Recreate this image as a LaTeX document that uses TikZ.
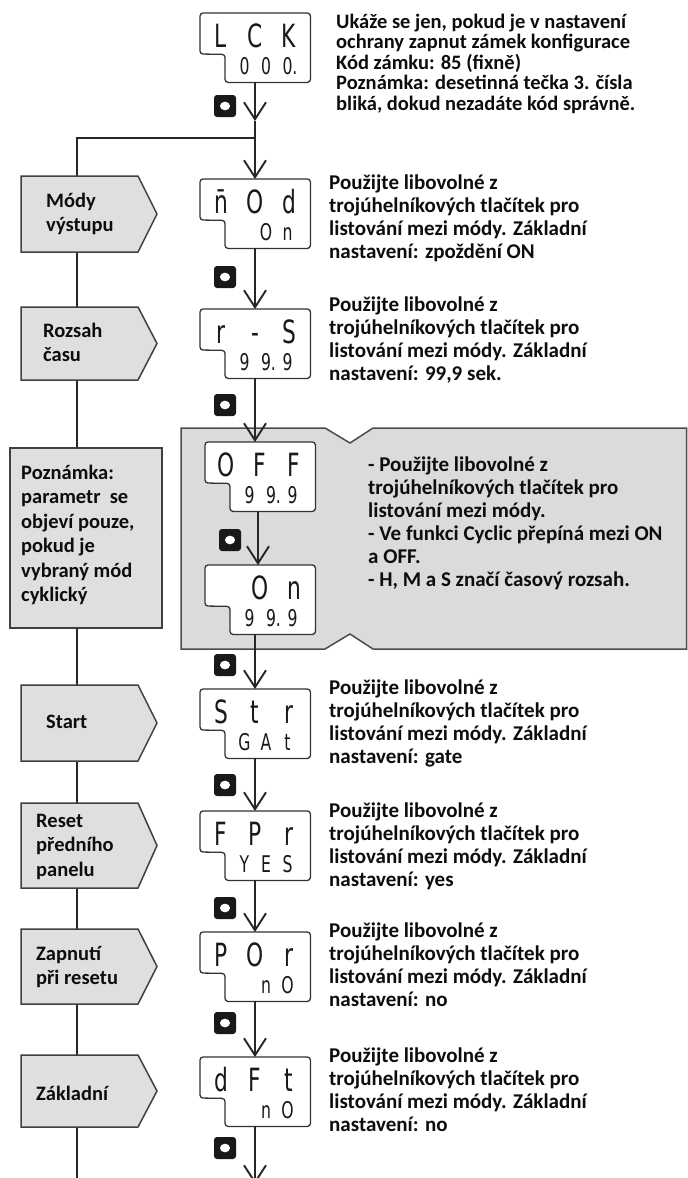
\documentclass[tikz,border=0pt]{standalone}
\usepackage{fontspec}
\setmainfont{Carlito}
\newfontfamily\segf{DejaVu Sans}
\usetikzlibrary{arrows.meta,calc}
\newcommand\rtxt{\fontsize{21}{23}\selectfont\bfseries}
\newcommand\ltxt{\fontsize{20.5}{24.5}\selectfont\bfseries}
\newcommand\ktxt{\fontsize{20.5}{20.5}\selectfont\bfseries}
\newcommand\sgU[1]{\makebox[34pt]{\scalebox{0.68}[1]{#1}}}
\newcommand\sgL[1]{\makebox[21.5pt]{\scalebox{0.68}[1]{#1}}}
\newcommand\dispbox[3]{%
  \node[dispnode, anchor=north west] (#1) at (#2,#3) {};
  \draw[disp] (#1.north west) -- (#1.north east) -- (#1.south east)
    -- ($(#1.south west)+(25pt,0)$) -- ($(#1.south west)+(25pt,28pt)$)
    -- ($(#1.north west)+(0,-41pt)$) -- cycle;
}
\newcommand\segrows[3]{% name, upper, lower
  \node[segU, anchor=base] (#1u) at ($(#1.north west)+(55pt,-34pt)$) {#2};
  \node[segL, anchor=base] (#1l) at ($(#1.north west)+(66pt,-61pt)$) {#3};
}
\newcommand\pent[3]{% name, top, bottom
  \draw[leftbox] (21,#2) -- (138,#2) -- (157,{(#2+#3)/2}) -- (138,#3) -- (21,#3) -- cycle;
  \coordinate (#1) at (77,{(#2+#3)/2});
}
\newcommand\btn[3]{%
  \node[btnstyle] (#1) at (#2,#3) {};
  \fill[white] (#1.center) ellipse (5pt and 4.3pt);
}
\begin{document}
\begin{tikzpicture}[x=1pt,y=-1pt,
  conn/.style={line width=1.4pt, draw=black!85},
  arr/.style={conn, -{Straight Barb[length=17pt,width=22pt,line width=1.9pt]}},
  leftbox/.style={fill=gray!25, draw=black!75, line width=1.5pt},
  graybox/.style={fill=gray!28, draw=black!70, line width=1.5pt},
  dispnode/.style={inner sep=0, minimum width=110pt, minimum height=69pt, draw=none},
  disp/.style={draw=black!80, line width=1.3pt, fill=white, rounded corners=3pt},
  segU/.style={inner sep=0, font=\segf\fontsize{32}{32}\selectfont, text=black!90},
  segL/.style={inner sep=0, font=\segf\fontsize{23}{23}\selectfont, text=black!90},
  btnstyle/.style={fill=black!90, rounded corners=3pt, minimum width=22pt, minimum height=22pt, inner sep=0},
  txt/.style={inner sep=0, anchor=base west, text=black!95}]
\useasboundingbox (0,0) rectangle (688,1178);
\fill[white] (0,0) rectangle (688,1178);
\coordinate (sp) at (255,0);
\coordinate (sp2) at (258,0);
\coordinate (jn) at (255,138);
\coordinate (jl) at (77,138);
\coordinate (lend) at (77,1182);
\coordinate (aend) at (255,1184);
% left spine
\draw[conn] (jn) -- (jl) -- (lend);
% gray box
\draw[graybox] (181,428) -- (325,428) -- (350,443) -- (373,428) -- (686.5,428)
  -- (686.5,649) -- (373,649) -- (350,634) -- (325,649) -- (181,649) -- cycle;
% left boxes
\pent{pm}{176}{252}
\pent{pr}{307}{380}
\draw[leftbox] (10,448) rectangle (162,628);
\coordinate (pp) at (77,538);
\pent{ps}{685}{761}
\pent{pf}{803}{888}
\pent{pz}{929}{1004}
\pent{pd}{1055}{1127}
% displays
\dispbox{dlck}{200}{13}
\segrows{dlck}{\sgU{L}\sgU{C}\sgU{K}}{\sgL{0}\sgL{0}\sgL{0\rlap{.}}}
\dispbox{dmod}{200}{179}
\segrows{dmod}{\sgU{\={n}}\sgU{O}\sgU{d}}{\sgL{}\sgL{O}\sgL{n}}
\dispbox{drs}{200}{309}
\segrows{drs}{\sgU{r}\sgU{-}\sgU{S}}{\sgL{9}\sgL{9\rlap{.}}\sgL{9}}
\dispbox{doff}{205}{442}
\segrows{doff}{\sgU{O}\sgU{F}\sgU{F}}{\sgL{9}\sgL{9\rlap{.}}\sgL{9}}
\dispbox{don}{205}{565}
\segrows{don}{\sgU{}\sgU{O}\sgU{n}}{\sgL{9}\sgL{9\rlap{.}}\sgL{9}}
\dispbox{dstr}{200}{689}
\segrows{dstr}{\sgU{S}\sgU{t}\sgU{r}}{\sgL{G}\sgL{A}\sgL{t}}
\dispbox{dfpr}{200}{811}
\segrows{dfpr}{\sgU{F}\sgU{P}\sgU{r}}{\sgL{Y}\sgL{E}\sgL{S}}
\dispbox{dpor}{200}{932}
\segrows{dpor}{\sgU{P}\sgU{O}\sgU{r}}{\sgL{}\sgL{n}\sgL{O}}
\dispbox{ddft}{200}{1057}
\segrows{ddft}{\sgU{d}\sgU{F}\sgU{t}}{\sgL{}\sgL{n}\sgL{O}}
% connectors
\coordinate (a1) at (255,121);
\draw[arr] (dlck.south -| sp) -- (a1);
\draw[conn] (a1) -- (jn);
\draw[arr] (jn) -- (dmod.north -| sp);
\draw[arr] (dmod.south -| sp) -- (drs.north -| sp);
\draw[arr] (drs.south -| sp) -- (doff.north -| sp);
\draw[arr] (doff.south -| sp2) -- (don.north -| sp2);
\draw[arr] (don.south -| sp) -- (dstr.north -| sp);
\draw[arr] (dstr.south -| sp) -- (dfpr.north -| sp);
\draw[arr] (dfpr.south -| sp) -- (dpor.north -| sp);
\draw[arr] (dpor.south -| sp) -- (ddft.north -| sp);
\draw[arr] (ddft.south -| sp) -- (aend);
% buttons
\btn{b1}{225}{106}
\btn{b2}{225}{277}
\btn{b3}{225}{405}
\btn{b4}{230}{540}
\btn{b5}{225}{665}
\btn{b6}{225}{785}
\btn{b7}{225}{908}
\btn{b8}{225}{1023}
\btn{b9}{225}{1148}
% left texts
\node[txt] (lt1) at (46,207) {\parbox[t]{120pt}{\ltxt Módy\\výstupu}};
\node[txt] (lt2) at (43,337) {\parbox[t]{120pt}{\ltxt Rozsah\\času}};
\node[txt] (lt3) at (21,479) {\parbox[t]{140pt}{\ltxt Poznámka:\\parametr\ \ se\\objeví pouze,\\pokud je\\vybraný mód\\cyklický}};
\node[txt] (lt4) at (46,728) {\parbox[t]{120pt}{\ltxt Start}};
\node[txt] (lt5) at (36,827) {\parbox[t]{120pt}{\ltxt Reset\\předního\\panelu}};
\node[txt] (lt6) at (36,960) {\parbox[t]{120pt}{\ltxt Zapnutí\\při resetu}};
\node[txt] (lt7) at (36,1100) {\parbox[t]{120pt}{\ltxt Základní}};
% right texts
\node[txt] (rt0) at (336,28) {\parbox[t]{350pt}{\ktxt Ukáže se jen, pokud je v nastavení\\ochrany zapnut zámek konfigurace\\Kód zámku: 85 (fixně)\\Poznámka: desetinná tečka 3. čísla\\bliká, dokud nezadáte kód správně.}};
\node[txt] (rt1) at (329,189) {\parbox[t]{350pt}{\rtxt Použijte libovolné z\\trojúhelníkových tlačítek pro\\listování mezi módy. Základní\\nastavení: zpoždění ON}};
\node[txt] (rt2) at (329,311) {\parbox[t]{350pt}{\rtxt Použijte libovolné z\\trojúhelníkových tlačítek pro\\listování mezi módy. Základní\\nastavení: 99,9 sek.}};
\node[txt] (rt3) at (368,471) {\parbox[t]{318pt}{\rtxt - Použijte libovolné z\\trojúhelníkových tlačítek pro\\listování mezi módy.\\- Ve funkci Cyclic přepíná mezi ON\\a OFF.\\- H, M a S značí časový rozsah.}};
\node[txt] (rt4) at (329,694) {\parbox[t]{350pt}{\rtxt Použijte libovolné z\\trojúhelníkových tlačítek pro\\listování mezi módy. Základní\\nastavení: gate}};
\node[txt] (rt5) at (329,817) {\parbox[t]{350pt}{\rtxt Použijte libovolné z\\trojúhelníkových tlačítek pro\\listování mezi módy. Základní\\nastavení: yes}};
\node[txt] (rt6) at (329,937) {\parbox[t]{350pt}{\rtxt Použijte libovolné z\\trojúhelníkových tlačítek pro\\listování mezi módy. Základní\\nastavení: no}};
\node[txt] (rt7) at (329,1062) {\parbox[t]{350pt}{\rtxt Použijte libovolné z\\trojúhelníkových tlačítek pro\\listování mezi módy. Základní\\nastavení: no}};
\end{tikzpicture}
\end{document}
